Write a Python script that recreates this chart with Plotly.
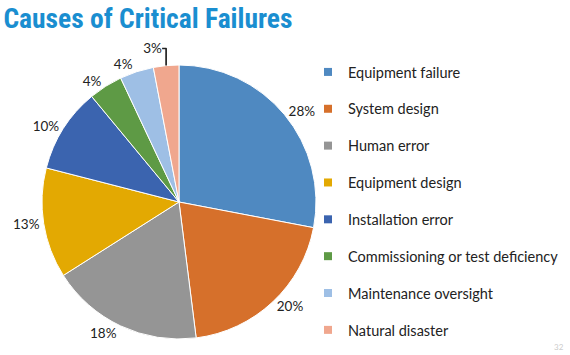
import plotly.graph_objects as go

categories = ["Equipment failure", "System design", "Human error", "Equipment design",
              "Installation error", "Commissioning or test deficiency",
              "Maintenance oversight", "Natural disaster"]
values = [28, 20, 18, 13, 10, 4, 4, 3]
colors = ["#4F89C1", "#D6702B", "#959595", "#E3A902", "#3B64AF", "#5E9A45", "#9EBFE5", "#F0A78E"]

W, H = 570, 355
cx, cy, r = 179, 202, 137

fig = go.Figure()
fig.add_trace(go.Pie(
    labels=categories, values=values, sort=False, direction="clockwise", rotation=0,
    marker=dict(colors=colors, line=dict(color="white", width=1)),
    textinfo="percent", textposition="outside", texttemplate="%{percent:.0%}",
    textfont=dict(family="Lato", size=13.5, color="#222222"),
    showlegend=False, hoverinfo="label+percent",
    domain=dict(x=[(cx - r) / W, (cx + r) / W], y=[1 - (cy + r) / H, 1 - (cy - r) / H]),
))

for i, (c, col) in enumerate(zip(categories, colors)):
    fig.add_trace(go.Scatter(
        x=[None], y=[None], mode="markers", name=c, legendgroup=f"g{i}",
        marker=dict(symbol="square", size=8, color=col),
    ))

fig.update_layout(
    width=W, height=H, margin=dict(l=0, r=0, t=0, b=0),
    paper_bgcolor="white", plot_bgcolor="white",
    xaxis=dict(visible=False), yaxis=dict(visible=False),
    title=dict(text="<b>Causes of Critical Failures</b>", x=0.006, xanchor="left",
               y=0.975, yanchor="top",
               font=dict(family="Liberation Sans Narrow, Roboto Condensed, Roboto, sans-serif",
                         size=27.5, color="#1A8ED0")),
    legend=dict(x=308 / W, y=1 - 56 / H, xanchor="left", yanchor="top",
                font=dict(family="Lato", size=14.5, color="#222222"),
                tracegroupgap=15.0, bgcolor="rgba(0,0,0,0)"),
    annotations=[dict(text="32", x=1, y=0, xref="paper", yref="paper", xanchor="right",
                      yanchor="bottom", showarrow=False, xshift=-4, yshift=1,
                      font=dict(family="Lato", size=8, color="#CCCCCC"))],
)

fig.write_html("out.html", config={"displayModeBar": False},
               post_script="document.body.style.margin='0';document.body.style.padding='0';")
